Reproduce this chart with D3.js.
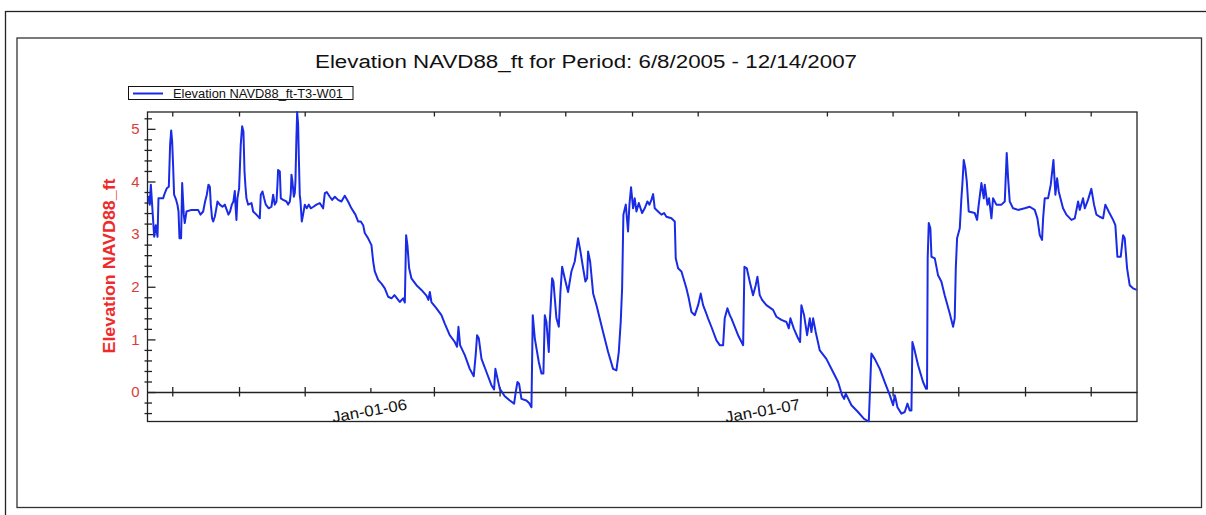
<!DOCTYPE html>
<html><head><meta charset="utf-8">
<script src="https://cdn.jsdelivr.net/npm/d3@7"></script>
<style>
html,body{margin:0;padding:0;background:#fff;}
svg{display:block;font-family:"Liberation Sans",Arial,sans-serif;}
</style></head>
<body>
<svg id="chart" width="1206" height="515"></svg>
<script>
// ---- data ----
const periodStart = "2005-06-08";
const periodEnd = "2007-12-14";
const seriesName = "Elevation NAVD88_ft-T3-W01";
const titleText = "Elevation NAVD88_ft for Period: 6/8/2005 - 12/14/2007";
const yAxisTitle = "Elevation NAVD88_ft";
const yTickValues = [0, 1, 2, 3, 4, 5];
const yDomain = [-0.56, 5.32];
const xTickLabels = ["Jan-01-06", "Jan-01-07"];
// days since periodStart
const dayOffsets = [
0,1.2,2.1,3.1,4.3,6.2,7.7,9.3,10.2,14.5,16.1,17.9,19.8,21.0,22.0,22.9,23.8,24.7,26.6,27.8,
28.8,29.7,31.2,32.2,33.7,34.6,36.2,40.8,47.0,49.2,51.7,53.5,55.1,56.6,57.9,58.8,60.0,61.0,62.5,63.7,
65.0,67.1,69.6,71.8,73.6,75.2,76.7,78.3,79.8,81.1,81.7,82.6,83.5,85.1,86.6,87.9,89.1,90.1,91.0,91.9,
93.5,96.6,98.1,101.2,104.3,105.2,106.8,108.3,109.9,112.6,115.1,116.7,118.2,119.8,120.7,121.3,122.9,123.8,126.0,129.1,
130.6,132.2,133.1,133.7,134.6,135.9,136.8,137.4,138.3,139.0,139.9,140.5,141.4,142.1,143.3,144.5,146.1,147.9,149.8,151.6,
154.1,156.9,160.0,163.1,164.7,166.5,169.3,171.5,174.0,177.0,180.1,183.2,186.3,189.4,193.1,195.6,198.1,200.3,201.8,204.9,
208.0,209.6,211.1,214.2,217.3,220.4,223.5,226.6,229.4,
232.8,234.3,237.4,239.0,240.2,241.4,243.0,245.1,249.8,254.4,259.1,260.9,262.2,263.7,268.4,273.0,276.1,280.7,285.4,287.5,
288.8,290.3,294.7,299.3,303.0,304.9,306.1,307.7,310.2,314.8,319.4,321.9,323.1,324.4,327.2,331.8,336.5,340.5,342.0,343.6,
345.1,347.3,351.9,354.4,356.6,357.8,359.7,363.4,365.9,367.7,369.0,370.5,372.7,373.6,374.5,375.8,377.0,379.8,382.0,383.5,
385.1,387.5,390.6,393.7,396.8,399.9,402.1,404.6,406.7,408.3,409.2,411.1,413.9,417.0,423.1,427.8,432.4,435.5,437.7,439.5,
440.8,442.0,444.2,446.3,447.6,449.1,451.0,452.5,454.1,456.3,459.4,
461.8,464.3,466.2,468.0,469.6,471.1,474.2,477.3,479.8,481.9,486.6,489.7,490.6,492.8,495.9,500.5,502.7,505.2,508.3,511.4,
513.8,516.0,518.5,520.6,523.7,528.4,531.5,534.6,536.1,538.6,540.8,542.3,544.8,548.5,553.2,554.4,556.6,559.3,562.4,564.9,
566.5,568.6,570.8,574.8,581.0,584.1,588.7,593.4,595.6,597.1,600.2,604.2,606.1,607.3,609.8,612.6,615.1,616.6,618.2,620.6,
624.4,630.5,636.7,641.4,645.1,647.0,648.5,653.8,659.9,665.5,669.9,672.3,675.4,680.1,684.7,689.4,692.5,694.0,
694.9,696.5,700.2,703.3,705.8,707.9,709.5,710.4,712.0,715.7,720.3,723.1,724.0,724.6,725.6,727.1,728.1,731.2,734.2,737.3,
740.4,745.1,748.2,749.7,750.7,751.9,754.4,755.9,756.8,758.1,759.6,760.9,762.7,768.3,770.5,772.0,774.5,776.7,777.6,780.1,
781.6,783.8,785.3,788.4,793.1,796.2,798.0,799.3,800.8,803.9,808.5,814.7,819.4,824.0,826.5,828.7,830.8,831.8,833.3,836.4,
838.9,841.4,843.2,844.8,846.3,847.9,850.3,853.4,858.1,861.2,864.3,865.8,868.9,870.5,873.5,876.6,879.1,881.3,884.4,887.5,
889.6,892.7,896.8,898.9,900.8,903.9,906.1,907.6,909.8,912.2,915.3,918.7
];
const elevations = [
3.62,3.71,3.56,3.94,3.56,2.95,3.17,2.95,3.68,3.68,3.78,3.87,3.90,4.70,4.97,4.76,4.29,3.75,3.65,3.56,
3.43,2.92,2.92,3.97,3.37,3.21,3.43,3.46,3.46,3.37,3.43,3.62,3.75,3.94,3.90,3.56,3.30,3.24,3.33,3.46,
3.62,3.56,3.52,3.56,3.46,3.37,3.43,3.56,3.62,3.82,3.56,3.27,3.68,3.87,4.70,5.05,4.95,4.19,3.90,3.68,
3.56,3.59,3.43,3.37,3.30,3.75,3.81,3.68,3.56,3.49,3.52,3.75,3.56,3.62,3.94,4.22,4.19,3.68,3.65,3.62,
3.56,3.62,3.78,4.13,4.00,3.71,3.78,4.00,4.83,5.32,5.08,4.51,3.75,3.62,3.24,3.37,3.56,3.49,3.56,3.49,
3.52,3.56,3.59,3.49,3.78,3.80,3.71,3.65,3.71,3.65,3.62,3.73,3.62,3.49,3.37,3.24,3.24,3.17,3.02,2.92,
2.79,2.48,2.29,2.13,2.06,1.97,1.81,1.78,1.84,
1.75,1.71,1.78,1.70,2.98,2.79,2.35,2.16,2.03,1.94,1.83,1.75,1.90,1.71,1.59,1.46,1.30,1.08,0.95,0.86,
1.24,0.89,0.70,0.44,0.30,0.73,1.08,1.02,0.63,0.38,0.13,0.05,0.44,0.32,0.06,-0.08,-0.16,-0.22,0.00,0.19,
0.16,-0.13,-0.16,-0.21,-0.29,1.46,1.02,0.57,0.35,0.35,1.46,1.33,0.76,1.33,1.65,2.16,2.10,1.40,1.24,1.90,
2.38,2.16,1.90,2.29,2.48,2.92,2.67,2.35,2.10,2.16,2.67,2.48,1.87,1.65,1.14,0.76,0.44,0.41,0.76,1.33,
1.97,3.37,3.56,3.05,3.56,3.89,3.49,3.68,3.43,3.59,3.40,
3.49,3.62,3.56,3.65,3.76,3.49,3.43,3.37,3.40,3.33,3.30,3.24,2.54,2.35,2.29,1.97,1.78,1.52,1.46,1.65,
1.87,1.65,1.52,1.40,1.24,0.98,0.89,0.89,1.40,1.59,1.46,1.40,1.27,1.08,0.89,2.38,2.35,2.10,1.84,2.03,
2.19,1.84,1.75,1.65,1.56,1.43,1.37,1.33,1.21,1.40,1.21,1.02,0.95,1.65,1.46,1.08,1.40,1.14,1.40,1.14,
0.79,0.63,0.38,0.19,-0.06,-0.13,-0.03,-0.25,-0.38,-0.51,-0.56,0.73,0.63,0.44,0.19,-0.06,-0.25,-0.06,
-0.13,-0.29,-0.41,-0.38,-0.22,-0.35,-0.35,0.95,0.83,0.51,0.19,0.06,0.06,2.54,3.21,3.11,2.57,2.54,2.22,2.10,
1.84,1.49,1.24,1.40,2.35,2.92,3.11,3.68,3.94,4.41,4.25,4.00,3.43,3.40,3.27,3.56,3.97,3.68,3.94,3.56,
3.68,3.30,3.68,3.56,3.56,3.62,4.54,4.06,3.62,3.49,3.46,3.49,3.52,3.46,3.30,2.98,2.89,3.30,3.68,3.68,
3.94,4.41,3.75,4.06,3.81,3.68,3.49,3.37,3.27,3.30,3.62,3.46,3.68,3.49,3.65,3.86,3.56,3.37,3.33,3.30,
3.56,3.43,3.27,3.17,2.57,2.57,2.98,2.92,2.35,2.03,1.97,1.94
];

// ---- layout ----
const svg = d3.select("#chart");
const P = {left: 147.5, right: 1137, top: 112, bottom: 421.5};
const parse = d3.timeParse("%Y-%m-%d");
const t0 = parse(periodStart), t1 = parse(periodEnd);
const x = d3.scaleTime().domain([t0, t1]).range([P.left, P.right]);
const y = d3.scaleLinear().domain(yDomain).range([P.bottom, P.top]);
const data = dayOffsets.map((d, i) => ({date: new Date(t0.getTime() + d * 86400000), v: elevations[i]}));

// frames
svg.append("rect").attr("x", 5.5).attr("y", 11.5).attr("width", 1220).attr("height", 530)
  .attr("fill", "none").attr("stroke", "#222").attr("stroke-width", 1.3);
svg.append("rect").attr("x", 17).attr("y", 38).attr("width", 1184.5).attr("height", 469.5)
  .attr("fill", "none").attr("stroke", "#333").attr("stroke-width", 1.3);

// title
svg.append("text").attr("x", 315).attr("y", 67.5).attr("font-size", 18)
  .attr("textLength", 542).attr("lengthAdjust", "spacingAndGlyphs")
  .attr("fill", "#111").text(titleText);

// legend
const lg = svg.append("g");
lg.append("rect").attr("x", 128.5).attr("y", 86.5).attr("width", 224.5).attr("height", 13)
  .attr("fill", "#fff").attr("stroke", "#111").attr("stroke-width", 1);
lg.append("line").attr("x1", 133).attr("x2", 163).attr("y1", 93.5).attr("y2", 93.5)
  .attr("stroke", "#1a2be6").attr("stroke-width", 2);
lg.append("text").attr("x", 173).attr("y", 98).attr("font-size", 12.5)
  .attr("textLength", 170).attr("lengthAdjust", "spacingAndGlyphs")
  .attr("fill", "#111").text(seriesName);

// plot frame
svg.append("rect").attr("x", P.left).attr("y", P.top).attr("width", P.right - P.left).attr("height", P.bottom - P.top)
  .attr("fill", "#fff").attr("stroke", "#222").attr("stroke-width", 1.3);

// x ticks (every 2 months)
const monthTicks = d3.timeMonth.every(2).range(t0, t1);
const isJan = d => d.getMonth() === 0;
const xAxisG = svg.append("g").attr("transform", `translate(0,${y(0)})`)
  .call(d3.axisBottom(x).tickValues(monthTicks).tickSize(0).tickFormat(""));
xAxisG.select(".domain").attr("stroke", "#222").attr("stroke-width", 1.3);
xAxisG.selectAll(".tick line").attr("stroke", "#222").attr("stroke-width", 1.3)
  .attr("y1", d => isJan(d) ? -4 : -5).attr("y2", d => isJan(d) ? 0 : 4.5);
// top ticks
const topG = svg.append("g").attr("transform", `translate(0,${P.top})`)
  .call(d3.axisBottom(x).tickValues(monthTicks.filter(d => !isJan(d))).tickSize(4.5).tickFormat(""));
topG.select(".domain").remove();
topG.selectAll(".tick line").attr("stroke", "#222").attr("stroke-width", 1.3);

// x labels
const janTicks = monthTicks.filter(isJan);
svg.append("g").selectAll("text").data(janTicks).join("text")
  .attr("transform", d => `translate(${x(d)},${416}) rotate(-10)`)
  .attr("text-anchor", "middle").attr("font-size", 15.5)
  .attr("textLength", 76).attr("lengthAdjust", "spacingAndGlyphs")
  .attr("fill", "#111").text((d, i) => xTickLabels[i]);

// y minor ticks (every 0.2 inside the domain)
const minor = d3.range(-4, 27).map(k => k / 5)
  .filter(v => Math.abs(v - Math.round(v)) > 1e-6 && v >= yDomain[0] && v <= yDomain[1]);
const yMinOut = svg.append("g").attr("transform", `translate(${P.left},0)`)
  .call(d3.axisLeft(y).tickValues(minor).tickSize(3).tickFormat(""));
yMinOut.select(".domain").remove();
const yMinIn = svg.append("g").attr("transform", `translate(${P.left},0)`)
  .call(d3.axisRight(y).tickValues(minor).tickSize(4.5).tickFormat(""));
yMinIn.select(".domain").remove();
const yMajIn = svg.append("g").attr("transform", `translate(${P.left},0)`)
  .call(d3.axisRight(y).tickValues(yTickValues).tickSize(8).tickFormat(""));
yMajIn.select(".domain").remove();
svg.selectAll(".tick line").attr("stroke", "#222").attr("stroke-width", 1.3);
// y labels
const yLab = svg.append("g").attr("transform", `translate(${P.left},0)`)
  .call(d3.axisLeft(y).tickValues(yTickValues).tickSize(0).tickPadding(8).tickFormat(d3.format("d")));
yLab.select(".domain").remove();
yLab.selectAll("text").attr("font-size", 15).attr("fill", "#d93b3b")
  .attr("font-family", "'Liberation Sans',Arial,sans-serif");

// y title
svg.append("text").attr("transform", `translate(115,266) rotate(-90)`)
  .attr("text-anchor", "middle").attr("font-size", 16).attr("font-weight", "bold")
  .attr("textLength", 175).attr("lengthAdjust", "spacingAndGlyphs")
  .attr("fill", "#ee2a2a").text(yAxisTitle);

// line
svg.append("defs").append("clipPath").attr("id", "clip").append("rect")
  .attr("x", P.left).attr("y", P.top - 1).attr("width", P.right - P.left).attr("height", P.bottom - P.top + 2);
svg.append("path").datum(data).attr("clip-path", "url(#clip)")
  .attr("fill", "none").attr("stroke", "#1a2be6").attr("stroke-width", 2).attr("stroke-linejoin", "round")
  .attr("d", d3.line().x(d => x(d.date)).y(d => y(d.v)));
</script>
</body></html>
